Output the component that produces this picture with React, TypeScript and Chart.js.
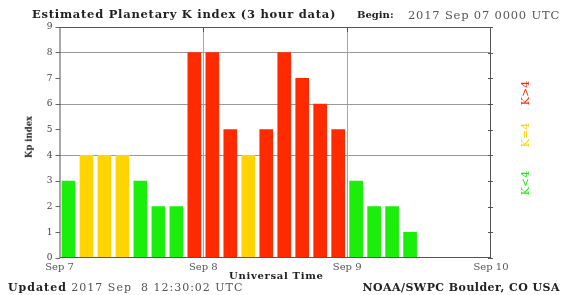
import React, { useEffect, useRef } from "react";
import { Chart, registerables } from "chart.js";

Chart.register(...registerables);

// ---- data ----
const days = ["Sep 7", "Sep 8", "Sep 9"];
const slotHours = ["00", "03", "06", "09", "12", "15", "18", "21"];
const dayTickLabels = ["Sep 7", "Sep 8", "Sep 9", "Sep 10"];
const kpValues = [3, 4, 4, 4, 3, 2, 2, 8, 8, 5, 4, 5, 8, 7, 6, 5, 3, 2, 2, 1];
const yTicks = [0, 1, 2, 3, 4, 5, 6, 7, 8, 9];

const slotLabels = days.flatMap((d) => slotHours.map((h) => `${d} ${h}`));

const GREEN = "#1cee0c";
const YELLOW = "#ffd400";
const RED = "#ff2a00";
const colorFor = (v: number) => (v < 4 ? GREEN : v === 4 ? YELLOW : RED);

const serif = "'DejaVu Serif', 'Liberation Serif', serif";

const frame = {
  id: "frame",
  afterDraw(chart: any) {
    const { ctx, chartArea: a, scales } = chart;
    ctx.save();
    ctx.strokeStyle = "#555";
    ctx.lineWidth = 1;
    ctx.strokeRect(a.left + 0.5, a.top + 0.5, a.right - a.left - 1, a.bottom - a.top - 1);
    const y = scales.y;
    ctx.beginPath();
    yTicks.forEach((t) => {
      const py = Math.round(y.getPixelForValue(t)) + 0.5;
      ctx.moveTo(a.right - 3, py);
      ctx.lineTo(a.right + 2, py);
    });
    const xd = scales.xd;
    [1, 2].forEach((d) => {
      const px = Math.round(xd.getPixelForValue(d)) + 0.5;
      ctx.moveTo(px, a.top);
      ctx.lineTo(px, a.top + 5);
    });
    ctx.stroke();
    ctx.restore();
  },
};

export default function App() {
  const ref = useRef<HTMLCanvasElement | null>(null);

  useEffect(() => {
    if (!ref.current) return;
    const chart = new Chart(ref.current, {
      type: "bar",
      data: {
        labels: slotLabels,
        datasets: [
          {
            data: kpValues,
            backgroundColor: kpValues.map(colorFor),
            borderWidth: 0,
            barThickness: 13,
            xAxisID: "x",
            yAxisID: "y",
          },
        ],
      },
      options: {
        responsive: false,
        maintainAspectRatio: false,
        animation: false,
        layout: { padding: { top: 27, right: 70, left: 0, bottom: 0 } },
        plugins: { legend: { display: false }, tooltip: { enabled: false } },
        scales: {
          x: {
            type: "category",
            display: false,
            offset: true,
          },
          xd: {
            type: "linear",
            position: "bottom",
            min: 0,
            max: 3,
            offset: false,
            ticks: {
              stepSize: 1,
              autoSkip: false,
              maxRotation: 0,
              padding: 3,
              color: "#555",
              font: { family: serif, size: 10 },
              callback: (v: any) => dayTickLabels[Math.round(Number(v))],
            },
            grid: {
              offset: false,
              drawTicks: false,
              color: (c: any) => (c.tick && (c.tick.value === 1 || c.tick.value === 2) ? "#a8a8a8" : "transparent"),
              lineWidth: 1,
            },
            border: { display: false },
            afterFit: (s: any) => {
              s.height = 37;
            },
          },
          y: {
            min: 0,
            max: 9,
            ticks: {
              stepSize: 1,
              padding: 3,
              color: "#444",
              font: { family: serif, size: 9 },
            },
            grid: {
              tickLength: 4,
              tickColor: "#666",
              color: (c: any) =>
                c.tick && [4, 6, 8].includes(c.tick.value) ? "#9a9a9a" : "transparent",
            },
            border: { display: false },
            afterFit: (s: any) => {
              s.width = 59.5;
            },
          },
        },
      },
      plugins: [frame],
    });
    return () => chart.destroy();
  }, []);

  const abs = (extra: React.CSSProperties): React.CSSProperties => ({
    position: "absolute",
    whiteSpace: "pre",
    lineHeight: 1,
    fontFamily: serif,
    ...extra,
  });

  return (
    <div
      style={{
        position: "fixed",
        left: 0,
        top: 0,
        width: 561,
        height: 295,
        background: "#fff",
        overflow: "hidden",
      }}
    >
      <canvas ref={ref} width={561} height={295} style={{ position: "absolute", left: 0, top: 0 }} />
      <div style={abs({ left: 32, top: 9, fontSize: 11.5, letterSpacing: 0.75, fontWeight: "bold", color: "#222" })}>
        Estimated Planetary K index (3 hour data)
      </div>
      <div style={abs({ left: 357, top: 10, fontSize: 10, fontWeight: "bold", color: "#222" })}>Begin:</div>
      <div style={abs({ left: 408, top: 10, fontSize: 11.5, letterSpacing: 0.8, color: "#555" })}>2017 Sep 07 0000 UTC</div>
      <div style={abs({ left: 229, top: 271, fontSize: 10, letterSpacing: 0.7, fontWeight: "bold", color: "#222" })}>
        Universal Time
      </div>
      <div style={abs({ left: 8, top: 282, fontSize: 11, letterSpacing: 1, color: "#555" })}>
        <b style={{ color: "#222" }}>Updated</b> 2017 Sep  8 12:30:02 UTC
      </div>
      <div style={abs({ right: 1, top: 282, fontSize: 11, letterSpacing: 0.45, fontWeight: "bold", color: "#222" })}>
        NOAA/SWPC Boulder, CO USA
      </div>
      <div
        style={abs({
          left: 29,
          top: 137,
          fontSize: 8.5,
          fontWeight: "bold",
          color: "#222",
          transform: "translate(-50%, -50%) rotate(-90deg)",
        })}
      >
        Kp index
      </div>
      <div style={abs({ left: 525, top: 93, fontSize: 11, color: RED, transform: "translate(-50%, -50%) rotate(-90deg)" })}>
        K&gt;4
      </div>
      <div style={abs({ left: 525, top: 135, fontSize: 11, color: YELLOW, transform: "translate(-50%, -50%) rotate(-90deg)" })}>
        K=4
      </div>
      <div style={abs({ left: 525, top: 183, fontSize: 11, color: GREEN, transform: "translate(-50%, -50%) rotate(-90deg)" })}>
        K&lt;4
      </div>
    </div>
  );
}
